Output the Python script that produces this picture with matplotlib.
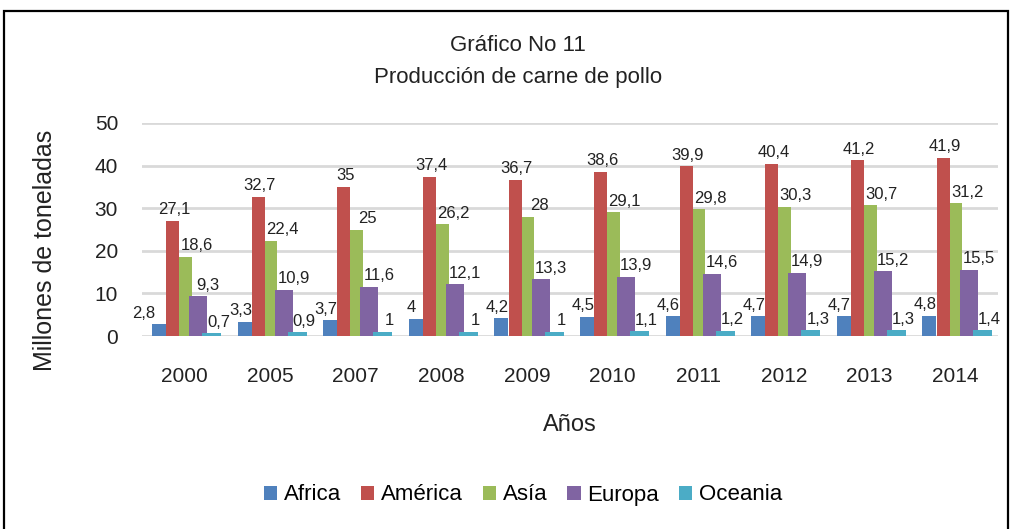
import numpy as np
import matplotlib.pyplot as plt
from matplotlib.patches import Rectangle

years = ["2000", "2005", "2007", "2008", "2009", "2010", "2011", "2012", "2013", "2014"]
africa = [2.8, 3.3, 3.7, 4, 4.2, 4.5, 4.6, 4.7, 4.7, 4.8]
america = [27.1, 32.7, 35, 37.4, 36.7, 38.6, 39.9, 40.4, 41.2, 41.9]
asia = [18.6, 22.4, 25, 26.2, 28, 29.1, 29.8, 30.3, 30.7, 31.2]
europa = [9.3, 10.9, 11.6, 12.1, 13.3, 13.9, 14.6, 14.9, 15.2, 15.5]
oceania = [0.7, 0.9, 1, 1, 1, 1.1, 1.2, 1.3, 1.3, 1.4]
names = ["Africa", "América", "Asía", "Europa", "Oceania"]
colors = ["#4F81BD", "#C0504D", "#9BBB59", "#8064A2", "#4BACC6"]

plt.rcParams['font.family'] = ['Liberation Sans Narrow', 'Liberation Sans', 'DejaVu Sans']

fig = plt.figure(figsize=(10.13, 5.29), dpi=100)
ax = fig.add_axes([141.7 / 1013, 193 / 529, 856 / 1013, 213 / 529])

x = np.arange(len(years))
offsets = [-0.298, -0.137, 0.012, 0.161, 0.318]
widths = [0.164, 0.152, 0.146, 0.21, 0.222]
label_dx = [-3, 1, 8, 7, 5]   # points
zord = [3, 3, 3, 4, 5]

series = [africa, america, asia, europa, oceania]
for k, vals in enumerate(series):
    bars = ax.bar(x + offsets[k], vals, width=widths[k], color=colors[k],
                  label=names[k], zorder=zord[k])
    for i, (b, v) in enumerate(zip(bars, vals)):
        txt = ("%g" % v).replace(".", ",")
        dx = label_dx[k]
        if k == 0 and i == 0:
            dx = -11   # first label pushed left in the original
        ax.annotate(txt, (b.get_x() + b.get_width() / 2, v),
                    xytext=(dx, 2.5), textcoords="offset points",
                    ha="center", va="bottom", fontsize=12, color="#222222",
                    zorder=6)

ax.set_ylim(0, 50)
ax.set_xlim(-0.5, 9.5)
ax.set_yticks(range(0, 51, 10))
ax.set_xticks(x)
ax.set_xticklabels(years)
ax.tick_params(length=0, labelsize=15, colors="#222222")
ax.tick_params(axis="y", pad=17)
ax.tick_params(axis="x", pad=22)
ax.grid(axis="y", color="#D9D9D9", linewidth=2, zorder=0)
ax.set_axisbelow(True)
for s in ax.spines.values():
    s.set_visible(False)

ax.set_ylabel("Millones de toneladas", fontsize=18, color="#222222")
ax.yaxis.set_label_coords(-0.099, 0.40)
fig.text(570 / 1013, 1 - 425 / 529, "Años", ha="center", va="center",
         fontsize=17, color="#222222")

fig.text(518 / 1013, 1 - 46 / 529, "Gráfico No 11", ha="center", va="center",
         fontsize=16, color="#222222")
fig.text(518 / 1013, 1 - 78 / 529, "Producción de carne de pollo", ha="center",
         va="center", fontsize=16, color="#222222")

fig.legend(loc="center", bbox_to_anchor=(523 / 1013, 1 - 495 / 529), ncol=5,
           frameon=False, fontsize=16, handlelength=0.6, handleheight=0.6,
           handletextpad=0.3, columnspacing=0.9)

fig.patches.append(Rectangle((4 / 1013, -0.02), 1004 / 1013, 1 - 11 / 529 + 0.02,
                             transform=fig.transFigure, fill=False,
                             edgecolor="black", linewidth=1.6))

fig.savefig("out.png", dpi=100)
